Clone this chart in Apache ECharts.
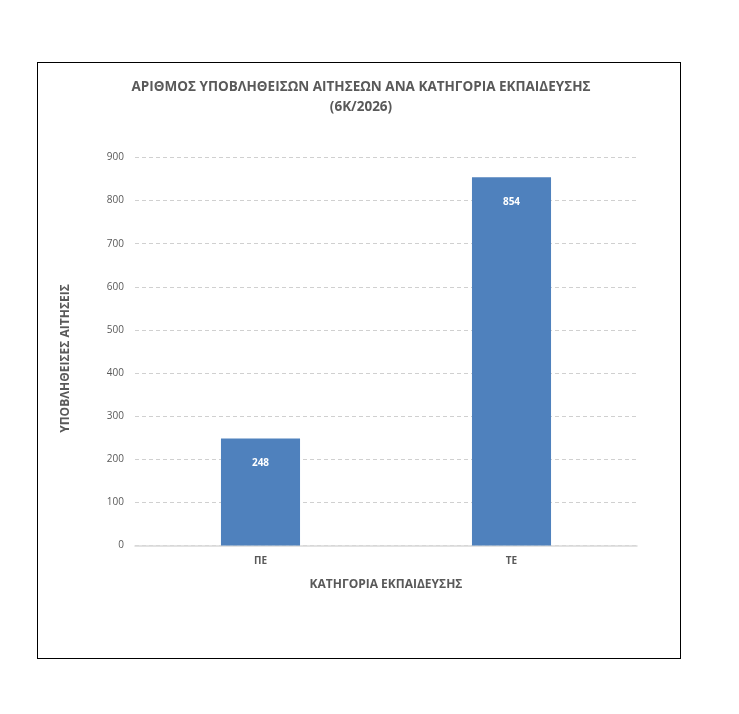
<!DOCTYPE html>
<html><head><meta charset="utf-8">
<script src="https://cdn.jsdelivr.net/npm/echarts@6/dist/echarts.min.js"></script>
<style>
html,body{margin:0;padding:0;background:#fff;}
#frame{position:absolute;left:37px;top:62px;width:642px;height:595px;border:1px solid #000;}
#chart{position:absolute;left:0;top:0;width:739px;height:714px;}
</style></head>
<body>
<div id="frame"></div>
<div id="chart"></div>
<script>
const categories = ['ΠΕ', 'ΤΕ'];
const values = [248, 854];
const yTicks = [0, 100, 200, 300, 400, 500, 600, 700, 800, 900];
const titleText = 'ΑΡΙΘΜΟΣ ΥΠΟΒΛΗΘΕΙΣΩΝ ΑΙΤΗΣΕΩΝ ΑΝΑ ΚΑΤΗΓΟΡΙΑ ΕΚΠΑΙΔΕΥΣΗΣ\n(6Κ/2026)';
const xName = 'ΚΑΤΗΓΟΡΙΑ ΕΚΠΑΙΔΕΥΣΗΣ';
const yName = 'ΥΠΟΒΛΗΘΕΙΣΕΣ ΑΙΤΗΣΕΙΣ';

const font = '"Open Sans", "Noto Sans", sans-serif';
const chart = echarts.init(document.getElementById('chart'), null, {renderer: 'canvas'});
chart.setOption({
  animation: false,
  textStyle: {fontFamily: font},
  title: {
    text: titleText,
    left: 356, top: 72, textAlign: 'center',
    textStyle: {fontFamily: font, fontSize: 13.5, fontWeight: 'bold', color: '#595959', lineHeight: 20}
  },
  grid: {left: 135, right: 102, top: 157.5, bottom: 168.5, containLabel: false},
  xAxis: {
    type: 'category',
    data: categories,
    name: xName,
    nameLocation: 'middle',
    nameGap: 33,
    nameTextStyle: {fontFamily: font, fontSize: 12, fontWeight: 'bold', color: '#595959'},
    axisLine: {show: true, lineStyle: {color: '#d9d9d9', width: 1.5}},
    axisTick: {show: false},
    axisLabel: {fontFamily: font, fontSize: 10, fontWeight: 'bold', color: '#595959', margin: 11}
  },
  yAxis: {
    type: 'value',
    min: yTicks[0], max: yTicks[yTicks.length - 1], interval: yTicks[1] - yTicks[0],
    name: yName,
    nameLocation: 'middle',
    nameGap: 63,
    nameRotate: 90,
    nameTextStyle: {fontFamily: font, fontSize: 12, fontWeight: 'bold', color: '#595959', padding: [0, 14, 0, 0]},
    axisLine: {show: false},
    axisTick: {show: false},
    axisLabel: {fontFamily: font, fontSize: 10, color: '#595959', margin: 11},
    splitLine: {show: true, lineStyle: {color: '#d0d0d0', type: [4, 3], width: 1}}
  },
  series: [{
    type: 'bar',
    data: values,
    barWidth: '31.5%',
    itemStyle: {color: '#4f81bd'},
    label: {
      show: true, position: 'insideTop', distance: 20,
      fontFamily: font, fontSize: 10, fontWeight: 'bold', color: '#ffffff'
    }
  }]
});
</script>
</body></html>
